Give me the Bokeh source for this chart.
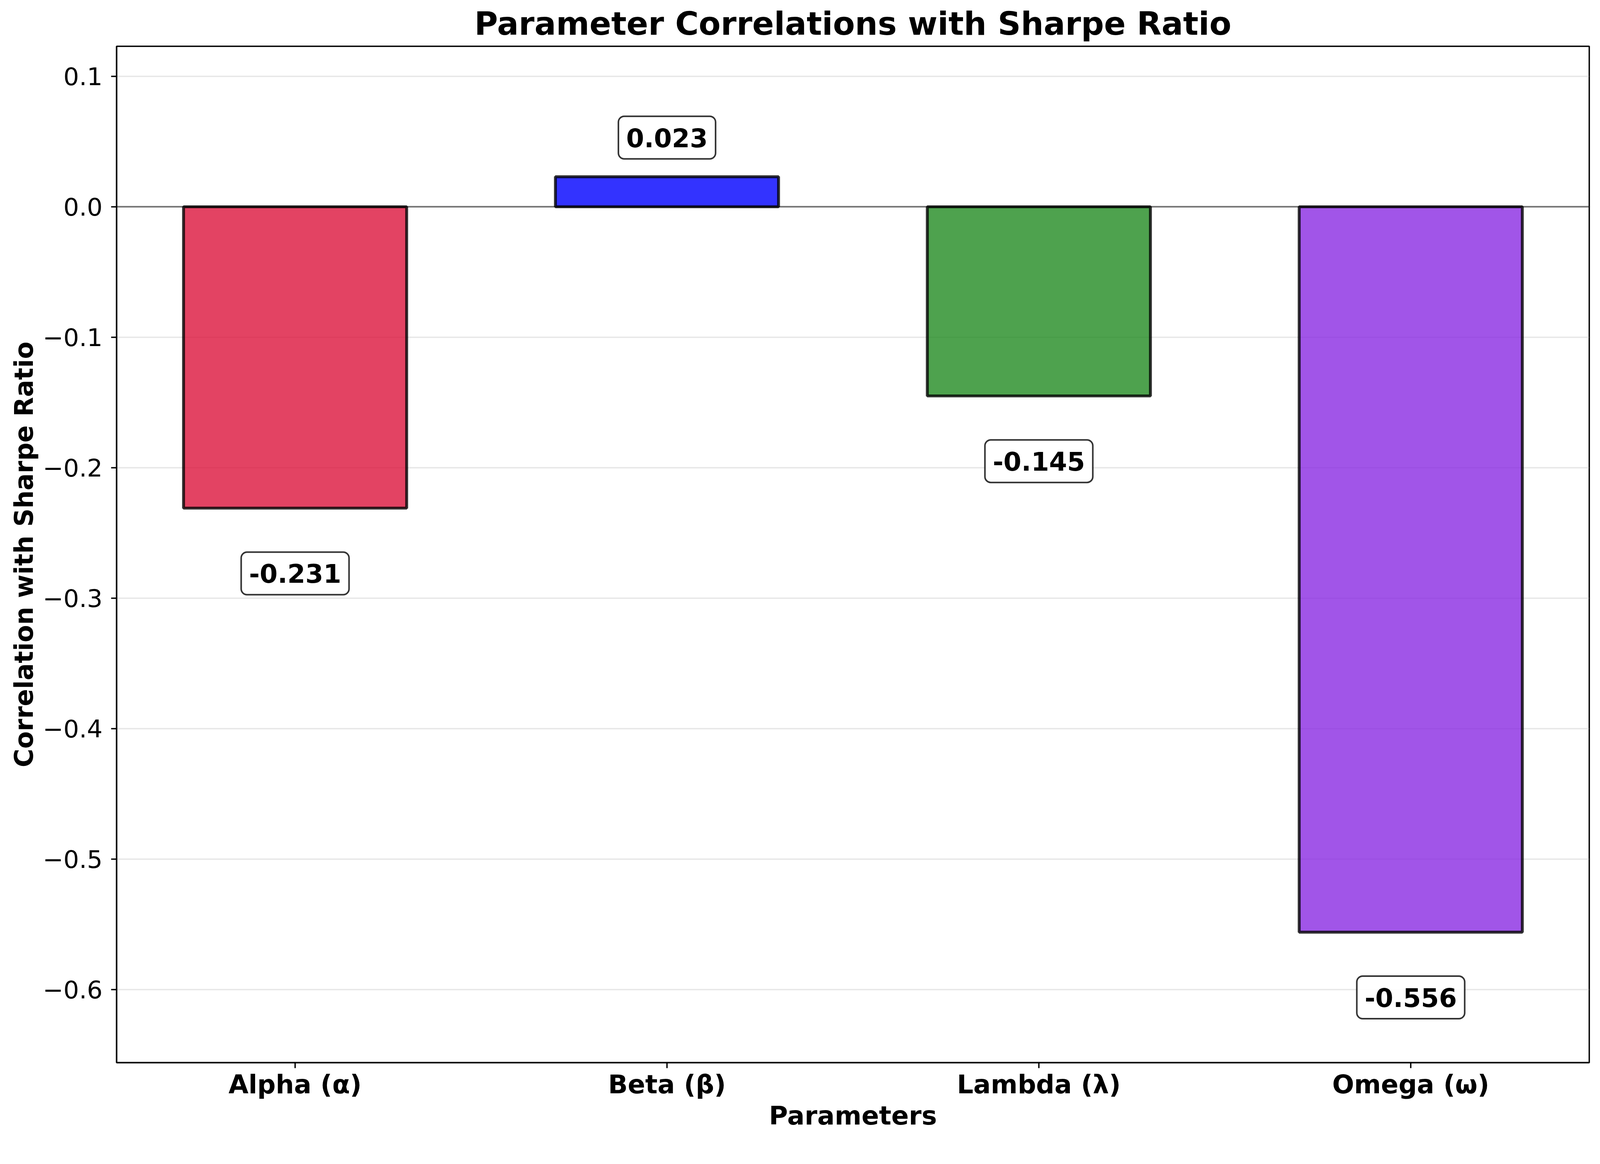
from bokeh.plotting import figure
from bokeh.models import (ColumnDataSource, Range1d, FixedTicker, CustomJSTickFormatter,
                          Span, Label)
from bokeh.embed import file_html
from bokeh.resources import INLINE

# ---- data ----
parameters = ["Alpha (α)", "Beta (β)", "Lambda (λ)", "Omega (ω)"]
correlations = [-0.231, 0.023, -0.145, -0.556]
bar_colors = ["crimson", "blue", "forestgreen", "blueviolet"]
y_ticks = [-0.6, -0.5, -0.4, -0.3, -0.2, -0.1, 0.0, 0.1]

FONT = "DejaVu Sans"

positions = list(range(len(parameters)))
src = ColumnDataSource(dict(x=positions, top=correlations, color=bar_colors))

ymin = min(correlations) - 0.1
ymax = max(correlations) + 0.1

p = figure(width=4080, height=2907, output_backend="svg", toolbar_location=None,
           x_range=Range1d(-0.48, len(parameters) - 1 + 0.48),
           y_range=Range1d(ymin, ymax),
           min_border_left=298, min_border_right=12, min_border_top=117, min_border_bottom=187,
           title="Parameter Correlations with Sharpe Ratio")

p.background_fill_color = "white"
p.border_fill_color = "white"
p.outline_line_color = "black"
p.outline_line_width = 3.5

p.title.text_font = FONT
p.title.text_font_size = "82px"
p.title.text_font_style = "bold"
p.title.text_color = "black"
p.title.align = "center"
p.title.standoff = 21
p.title.offset = 0

p.vbar(x="x", top="top", bottom=0, width=0.6, source=src,
       fill_color="color", fill_alpha=0.8,
       line_color="black", line_alpha=0.8, line_width=7.4)

p.add_layout(Span(location=0, dimension="width", line_color="black",
                  line_alpha=0.5, line_width=4))

# grid
p.xgrid.visible = False
p.ygrid.ticker = FixedTicker(ticks=y_ticks)
p.ygrid.grid_line_color = "#b0b0b0"
p.ygrid.grid_line_alpha = 0.3
p.ygrid.grid_line_width = 3.3

# axes
for ax in (p.xaxis[0], p.yaxis[0]):
    ax.axis_line_width = 3.5
    ax.major_tick_line_width = 3.5
    ax.major_tick_out = 14
    ax.major_tick_in = 0
    ax.minor_tick_out = 0
    ax.minor_tick_in = 0
    ax.axis_label_text_font = FONT
    ax.axis_label_text_font_style = "bold"
    ax.major_label_text_font = FONT
    ax.major_label_text_color = "black"
    ax.axis_label_text_color = "black"

p.yaxis.ticker = FixedTicker(ticks=y_ticks)
p.yaxis.formatter = CustomJSTickFormatter(
    code="return (tick < -1e-9 ? '\u2212' : '') + Math.abs(tick).toFixed(1);")
p.yaxis.major_label_text_font_size = "63px"
p.yaxis.major_label_standoff = 22
p.yaxis.axis_label = "Correlation with Sharpe Ratio"
p.yaxis.axis_label_text_font_size = "65px"
p.yaxis.axis_label_standoff = 8

p.xaxis.ticker = FixedTicker(ticks=positions)
p.xaxis.major_label_overrides = {i: name for i, name in zip(positions, parameters)}
p.xaxis.major_label_text_font_size = "66px"
p.xaxis.major_label_text_font_style = "bold"
p.xaxis.major_label_standoff = 3
p.xaxis.axis_label = "Parameters"
p.xaxis.axis_label_text_font_size = "66px"
p.xaxis.axis_label_standoff = 0

# value labels
for xi, v in zip(positions, correlations):
    ly = v + 0.03 if v > 0 else v - 0.05
    p.add_layout(Label(x=xi, y=ly, text=f"{v:.3f}", text_align="center",
                       text_baseline="middle", text_font=FONT, text_font_size="66px",
                       text_font_style="bold", text_color="black",
                       background_fill_color="white", background_fill_alpha=0.9,
                       border_line_color="black", border_line_alpha=0.8,
                       border_line_width=4, border_radius=15, padding=(20, 30)))

open("out.html", "w").write(file_html(p, INLINE))
